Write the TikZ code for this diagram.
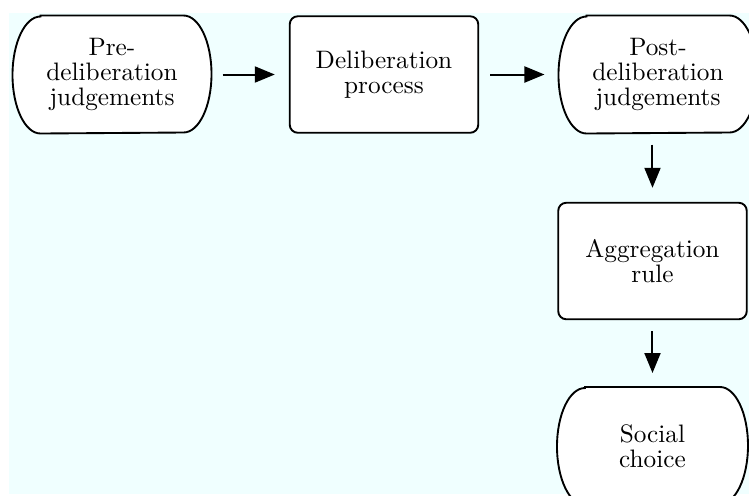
\documentclass[tikz,border=0pt]{standalone}
\usetikzlibrary{arrows.meta,calc}
\pgfdeclarelayer{bg}
\pgfdeclarelayer{shp}
\pgfsetlayers{bg,shp,main}
\definecolor{bgcyan}{RGB}{240,255,255}
\begin{document}
\begin{tikzpicture}[x=0.4pt,y=0.4pt,
 txt/.style={align=center,font=\fontsize{10.1pt}{9.9pt}\selectfont,inner sep=0pt},
 termbox/.style={txt,minimum width=79.2pt,minimum height=46.8pt},
 procbox/.style={txt,draw,line width=0.75pt,fill=white,rounded corners=3.2pt,minimum width=75.4pt,minimum height=46.6pt},
 flow/.style={-{Triangle[length=8pt,width=6.4pt]},line width=0.8pt,shorten <=4.4pt,shorten >=5.6pt},
 termline/.style={draw,line width=0.75pt,fill=white}]
\useasboundingbox (0,0) rectangle (749,-495);
\clip (0,0) rectangle (749,-495);
\begin{pgfonlayer}{bg}
\fill[bgcyan] (9,-13) rectangle (749,-494);
\end{pgfonlayer}
\node[termbox] (pre) at (112,-74.5) {Pre-\\deliberation\\judgements};
\node[procbox] (delib) at (384,-74.5) {Deliberation\\process};
\node[termbox] (post) at (658,-74.5) {Post-\\deliberation\\judgements};
\node[procbox] (agg) at (652.5,-261) {Aggregation\\rule};
\node[termbox,minimum width=76pt] (soc) at (652.5,-446) {Social\\choice};
\begin{pgfonlayer}{shp}
\foreach \n in {pre,post,soc} {
 \path[termline] ([xshift=11.2pt]\n.north west) -- ([xshift=-11.2pt]\n.north east)
   arc[start angle=90,end angle=-90,x radius=11.2pt,y radius=23.4pt]
   -- ([xshift=11.2pt]\n.south west)
   arc[start angle=270,end angle=90,x radius=11.2pt,y radius=23.4pt] -- cycle;
}
\end{pgfonlayer}
\draw[flow] (pre) -- (delib);
\draw[flow] (delib) -- (post);
\draw[flow] (agg.north |- post.south) -- (agg.north);
\draw[flow] (agg) -- (soc);
\end{tikzpicture}
\end{document}
